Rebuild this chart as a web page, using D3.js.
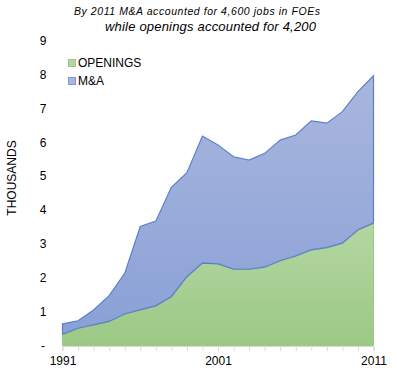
<!DOCTYPE html>
<html><head><meta charset="utf-8">
<script src="https://cdn.jsdelivr.net/npm/d3@7"></script>
<style>body{margin:0;background:#fff}svg{display:block}text{font-family:"Liberation Sans",Arial,sans-serif}</style>
</head><body><svg id="c" width="397" height="379"></svg>
<script>
const years = [1991,1992,1993,1994,1995,1996,1997,1998,1999,2000,2001,2002,2003,2004,2005,2006,2007,2008,2009,2010,2011];
const openings = [0.33,0.51,0.61,0.71,0.93,1.05,1.17,1.44,2.03,2.43,2.41,2.25,2.25,2.31,2.50,2.64,2.82,2.89,3.02,3.41,3.61];
const totals = [0.64,0.73,1.05,1.47,2.13,3.51,3.67,4.67,5.10,6.18,5.92,5.57,5.47,5.67,6.06,6.21,6.63,6.56,6.90,7.49,7.96];
const mna = totals.map((t,i)=>+(t-openings[i]).toFixed(2));
const yTicks = [0,1,2,3,4,5,6,7,8,9];
const xLabels = [1991,2001,2011];
const seriesNames = ["OPENINGS","M&A"];
const titleLines = ["By 2011 M&A accounted for 4,600 jobs in FOEs","while openings accounted for 4,200"];

const svg = d3.select("#c");
const x = d3.scaleLinear().domain([1991,2011]).range([62.5,373.5]);
const y = d3.scaleLinear().domain([0,9]).range([345.5,40.5]);

const defs = svg.append("defs");
const gg = defs.append("linearGradient").attr("id","gG").attr("x1",0).attr("y1",0).attr("x2",0).attr("y2",1);
gg.append("stop").attr("offset","0%").attr("stop-color","#b4d6a2");
gg.append("stop").attr("offset","100%").attr("stop-color","#9bc985");
const gb = defs.append("linearGradient").attr("id","gB").attr("x1",0).attr("y1",0).attr("x2",0).attr("y2",1);
gb.append("stop").attr("offset","0%").attr("stop-color","#a9b7de");
gb.append("stop").attr("offset","100%").attr("stop-color","#8aa0d6");

const rows = years.map((yr,i)=>({year:yr, o:openings[i], m:mna[i]}));
const stack = d3.stack().keys(["o","m"])(rows);
const area = d3.area().x(d=>x(d.data.year)).y0(d=>y(d[0])).y1(d=>y(d[1]));

svg.append("path").datum(stack[1]).attr("d",area).attr("fill","url(#gB)").attr("stroke","#5b7fce").attr("stroke-width",1.2);
svg.append("path").datum(stack[0]).attr("d",area).attr("fill","url(#gG)").attr("stroke","#9cc985").attr("stroke-width",1);
svg.append("path").datum(stack[0]).attr("d",d3.line().x(d=>x(d.data.year)).y(d=>y(d[1]))).attr("fill","none").attr("stroke","#5b7fce").attr("stroke-width",1.2);

// x axis
const xa = svg.append("g").attr("transform","translate(0,346)")
  .call(d3.axisBottom(x).tickValues(years).tickSize(5).tickFormat(d=>xLabels.includes(d)?String(d):""));
xa.select(".domain").attr("stroke","#d9d9d9");
xa.selectAll(".tick line").attr("stroke","#d9d9d9");
xa.selectAll(".tick text").attr("font-size",12).attr("fill","#000").attr("dy","0.9em");

// y axis labels
const ya = svg.append("g").attr("transform","translate(48,0)")
  .call(d3.axisLeft(y).tickValues(yTicks).tickSize(0).tickPadding(0).tickFormat(d=>d===0?"-":String(d)));
ya.select(".domain").remove();
ya.selectAll(".tick text").attr("font-size",12).attr("fill","#000").attr("text-anchor","middle").attr("x",-5);

svg.append("text").attr("transform","translate(16,178) rotate(-90)").attr("text-anchor","middle")
  .attr("font-size",12).attr("fill","#000").text("THOUSANDS");

svg.append("text").attr("x",74).attr("y",15).attr("font-size",10.5)
  .attr("textLength",246).attr("lengthAdjust","spacing").attr("font-style","italic").attr("fill","#000").text(titleLines[0]);
svg.append("text").attr("x",105).attr("y",31).attr("font-size",13)
  .attr("textLength",211).attr("lengthAdjust","spacing").attr("font-style","italic").attr("fill","#000").text(titleLines[1]);

// legend
const lg = svg.append("g");
const lcol = [["#9bc985","#b4d6a2"],["#7f97d4","#a9b7de"]];
seriesNames.forEach((n,i)=>{
  const yy = 59 + i*18;
  lg.append("rect").attr("x",68.5).attr("y",yy+0.5).attr("width",7).attr("height",7)
    .attr("fill",lcol[i][1]).attr("stroke",lcol[i][0]);
  lg.append("text").attr("x",78).attr("y",yy+8).attr("font-size",12).attr("fill","#000").text(n);
});
</script></body></html>
